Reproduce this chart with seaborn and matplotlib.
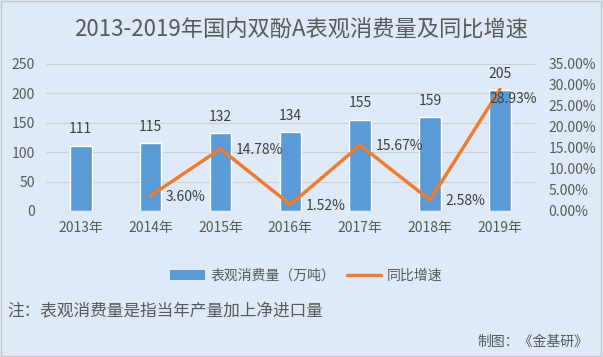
import matplotlib
matplotlib.use("Agg")
import matplotlib.pyplot as plt
import seaborn as sns
import pandas as pd
from matplotlib.patches import Patch
from matplotlib.lines import Line2D

years = ["2013年", "2014年", "2015年", "2016年", "2017年", "2018年", "2019年"]
consumption = [111, 115, 132, 134, 155, 159, 205]
growth_years = ["2014年", "2015年", "2016年", "2017年", "2018年", "2019年"]
growth = [3.60, 14.78, 1.52, 15.67, 2.58, 28.93]

sns.set_theme(style="white")
plt.rcParams['font.family'] = ['Noto Sans CJK SC', 'DejaVu Sans']

BG = "#DEEAF7"
TXT = "#595959"
BLUE = "#5B9BD5"
ORANGE = "#ED7D31"

fig = plt.figure(figsize=(6.03, 3.57), dpi=100, facecolor=BG)
ax = fig.add_axes([0.076, 0.409, 0.811, 0.412])
ax.set_facecolor(BG)

df = pd.DataFrame({"year": years, "val": consumption})
sns.barplot(data=df, x="year", y="val", color=BLUE, width=0.31, saturation=1, ax=ax)
ax.set_ylim(0, 250)
ax.set_yticks(range(0, 251, 50))
ax.set_xlim(-0.5, 6.5)
ax.grid(axis="y", color="#D0D0D0", linewidth=0.8)
ax.set_axisbelow(True)
for s in ax.spines.values():
    s.set_visible(False)
ax.set_xlabel("")
ax.set_ylabel("")
ax.tick_params(axis="both", length=0, colors=TXT, labelsize=10)
ax.tick_params(axis="x", pad=7)
ax.tick_params(axis="y", pad=8)
for i, v in enumerate(consumption):
    ax.text(i, v + 28, str(v), ha="center", va="center", fontsize=10, color="#404040")

ax2 = ax.twinx()
gdf = pd.DataFrame({"year": [years.index(y) for y in growth_years], "g": growth})
sns.lineplot(data=gdf, x="year", y="g", color=ORANGE, linewidth=2.5, ax=ax2)
ax2.set_ylim(0, 35)
ax2.set_yticks(range(0, 36, 5))
ax2.set_yticklabels([f"{t:.2f}%" for t in range(0, 36, 5)])
ax2.tick_params(axis="y", length=0, colors=TXT, labelsize=10, pad=10)
for s in ax2.spines.values():
    s.set_visible(False)
ax2.set_xlabel("")
ax2.set_ylabel("")
ax2.set_xlim(-0.5, 6.5)
for xi, g in zip(gdf["year"], growth):
    if g > 25:
        ax2.text(xi - 0.15, g - 2.4, f"{g:.2f}%", ha="left", va="center", fontsize=10, color="#404040")
    else:
        ax2.text(xi + 0.22, g - 0.3, f"{g:.2f}%", ha="left", va="center", fontsize=10, color="#404040")

fig.text(0.5, 0.915, "2013-2019年国内双酚A表观消费量及同比增速", ha="center", va="center",
         fontsize=16, color=TXT)

handles = [Patch(facecolor=BLUE, edgecolor="none"), Line2D([0], [0], color=ORANGE, lw=2.5)]
fig.legend(handles, ["表观消费量（万吨）", "同比增速"], loc="center", bbox_to_anchor=(0.508, 0.227),
           ncol=2, frameon=False, fontsize=10, labelcolor=TXT, handlelength=2.5, columnspacing=0.8,
           handletextpad=0.4)

fig.text(0.012, 0.126, "注：表观消费量是指当年产量加上净进口量", ha="left", va="center", fontsize=12, color=TXT)
fig.text(0.976, 0.042, "制图：《金基研》", ha="right", va="center", fontsize=10, color=TXT)

border = plt.Rectangle((0.002, 0.003), 0.995, 0.993, transform=fig.transFigure, fill=False,
                       edgecolor="#C8C8C8", linewidth=1)
fig.add_artist(border)

fig.savefig("out.png", dpi=100, facecolor=BG)
